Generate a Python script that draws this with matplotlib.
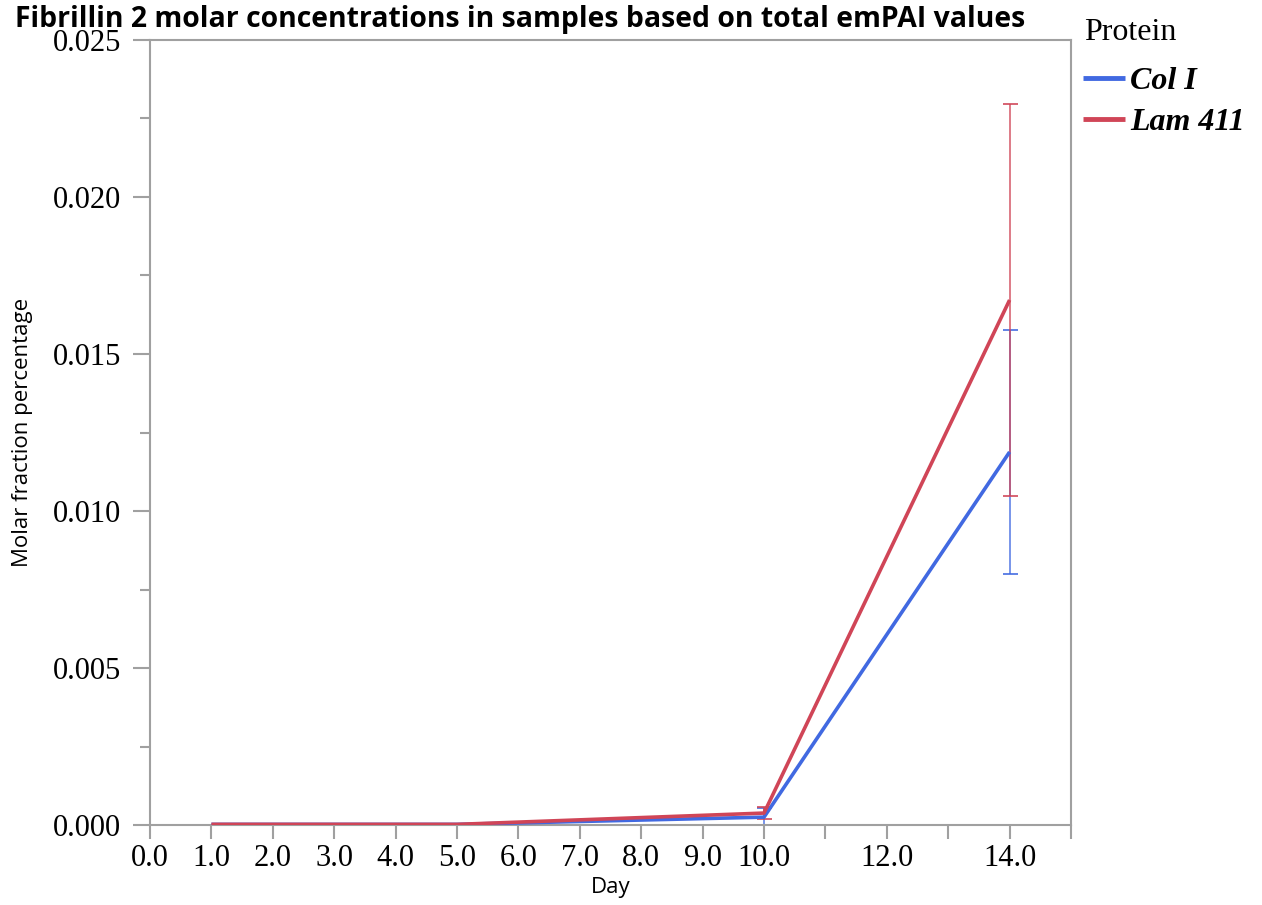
import matplotlib
matplotlib.use("Agg")
import matplotlib.pyplot as plt
from matplotlib.ticker import FixedLocator, MultipleLocator, FuncFormatter

# ---- data ----
days = [1, 5, 10, 14]
series_names = ["Col I", "Lam 411"]
col_i_mean = [0.00002, 0.00002, 0.00025, 0.01188]
col_i_err = [0.0, 0.0, 0.00028, 0.0039]
lam_mean = [0.00002, 0.00002, 0.00038, 0.01672]
lam_err = [0.0, 0.0, 0.00020, 0.00624]
x_major_ticks = [0, 1, 2, 3, 4, 5, 6, 7, 8, 9, 10, 12, 14]
x_minor_ticks = [11, 13, 15]
y_ticks = [0.0, 0.005, 0.010, 0.015, 0.020, 0.025]

blue = "#4169E1"
red = "#D04557"
grey = "#A0A0A0"
SERIF = "Liberation Serif"
SANS = "Open Sans"

plt.rcParams["font.family"] = "serif"
plt.rcParams["font.serif"] = ["Liberation Serif"]

fig = plt.figure(figsize=(12.62, 9.05), dpi=100)
W, H = 1262, 905
ax = fig.add_axes([150 / W, 1 - 825 / H, (1071 - 150) / W, (825 - 40) / H])

ax.plot(days, col_i_mean, color=blue, lw=2.6, solid_capstyle="butt", zorder=3, label=series_names[0])
ax.plot(days, lam_mean, color=red, lw=2.6, solid_capstyle="butt", zorder=4, label=series_names[1])
ax.errorbar(days[2:], col_i_mean[2:], yerr=col_i_err[2:], fmt="none", ecolor=blue,
            elinewidth=1.1, capsize=5.4, capthick=1.3, zorder=2, alpha=0.9)
ax.errorbar(days[2:], lam_mean[2:], yerr=lam_err[2:], fmt="none", ecolor=red,
            elinewidth=1.1, capsize=5.4, capthick=1.3, zorder=2, alpha=0.9)

ax.set_xlim(0, 15)
ax.set_ylim(0, 0.025)
ax.xaxis.set_major_locator(FixedLocator(x_major_ticks))
ax.xaxis.set_minor_locator(FixedLocator(x_minor_ticks))
ax.xaxis.set_major_formatter(FuncFormatter(lambda v, p: f"{v:.1f}"))
ax.yaxis.set_major_locator(FixedLocator(y_ticks))
ax.yaxis.set_minor_locator(MultipleLocator(0.0025))
ax.yaxis.set_major_formatter(FuncFormatter(lambda v, p: f"{v:.3f}"))

for s in ax.spines.values():
    s.set_color(grey)
    s.set_linewidth(1.5)
ax.tick_params(axis="both", which="both", direction="out", color=grey, width=1.5, labelsize=22)
ax.tick_params(axis="x", which="major", length=10, pad=4)
ax.tick_params(axis="x", which="minor", length=10)
ax.tick_params(axis="y", which="major", length=12, pad=9)
ax.tick_params(axis="y", which="minor", length=7)

ax.set_xlabel("Day", fontsize=16, family=SANS)
ax.xaxis.set_label_coords(0.5, -(877 - 825) / 785)
ax.set_ylabel("Molar fraction percentage", fontsize=16, family=SANS)
ax.yaxis.set_label_coords(-(150 - 33) / 921, 0.5)

fig.text(15 / W, 1 - 20 / H, "Fibrillin 2 molar concentrations in samples based on total emPAI values",
         ha="left", va="center", fontsize=20.4, fontweight="bold", family=SANS)

fig.text(1084 / W, 1 - 33 / H, "Protein", ha="left", va="center", fontsize=23, family=SERIF)
leg = ax.legend(loc="upper left", bbox_to_anchor=(1083 / W, 1 - 67 / H),
                bbox_transform=fig.transFigure, frameon=False,
                prop={"family": SERIF, "size": 23, "weight": "bold", "style": "italic"},
                handlelength=1.3, handletextpad=0.18, borderpad=0, borderaxespad=0,
                labelspacing=0.36)
for h in leg.get_lines():
    h.set_linewidth(3.5)

fig.savefig("out.png", dpi=100)
